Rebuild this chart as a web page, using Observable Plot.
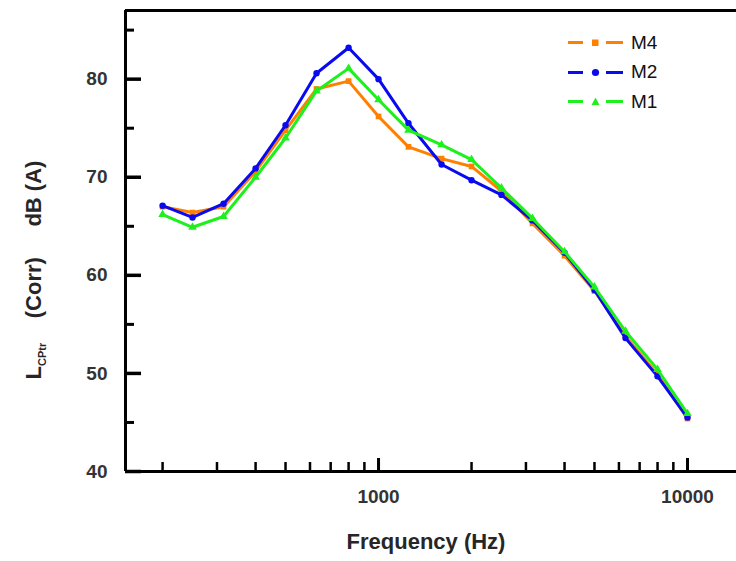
<!DOCTYPE html>
<html>
<head>
<meta charset="utf-8">
<script src="https://cdn.jsdelivr.net/npm/d3@7"></script>
<script src="https://cdn.jsdelivr.net/npm/@observablehq/plot@0.6"></script>
<style>
  html, body { margin: 0; padding: 0; background: #fff; }
  #wrap { position: relative; width: 736px; height: 561px; overflow: hidden; font-family: "Liberation Sans", Arial, sans-serif; }
  #ylab { position: absolute; left: 34px; top: 270px; transform: translate(-50%, -50%) rotate(-90deg); white-space: nowrap; font-weight: bold; font-size: 22px; color: #262626; }
  #ylab .sub { font-size: 11px; position: relative; top: 5px; }
  #xlab { position: absolute; left: 426px; top: 529px; transform: translateX(-50%); white-space: nowrap; font-weight: bold; font-size: 22px; color: #262626; }
  #legend { position: absolute; left: 567px; top: 28px; font-size: 19px; color: #111; }
  #legend .row { display: flex; align-items: center; height: 29.5px; }
  #legend svg { margin-right: 7px; }
</style>
</head>
<body>
<div id="wrap">
  <div id="chart"></div>
  <div id="ylab">L<span class="sub">CPtr</span>&nbsp;&nbsp;&nbsp;&nbsp;(Corr)&nbsp;&nbsp;&nbsp;&nbsp;&nbsp;dB (A)</div>
  <div id="xlab">Frequency (Hz)</div>
  <div id="legend"></div>
</div>
<script>
// Data
const freqs = [200, 250, 315, 400, 500, 630, 800, 1000, 1250, 1600, 2000, 2500, 3150, 4000, 5000, 6300, 8000, 10000];
const M4 = [67.0, 66.4, 67.0, 70.6, 74.8, 79.0, 79.8, 76.2, 73.1, 71.9, 71.1, 68.6, 65.3, 62.0, 58.4, 53.8, 49.9, 45.4];
const M2 = [67.1, 65.9, 67.3, 70.9, 75.3, 80.6, 83.2, 80.0, 75.5, 71.3, 69.7, 68.2, 65.6, 62.3, 58.5, 53.6, 49.7, 45.5];
const M1 = [66.2, 64.9, 66.0, 70.0, 74.0, 78.8, 81.1, 77.9, 74.8, 73.3, 71.8, 68.9, 65.8, 62.4, 58.8, 54.3, 50.4, 45.9];
const seriesNames = ["M4", "M2", "M1"];
const seriesColors = ["#ff8000", "#0a0af0", "#1ef01e"];
const seriesSymbols = ["square", "circle", "triangle"];
const xMajorTicks = [1000, 10000];
const xMinorTicks = [200, 300, 400, 500, 600, 700, 800, 900, 2000, 3000, 4000, 5000, 6000, 7000, 8000, 9000];
const yMajorTicks = [40, 50, 60, 70, 80];
const yMinorTicks = [45, 55, 65, 75, 85];
const xDomain = [151.7, 14410];
const yDomain = [40, 87];

const W = 736, H = 561, mL = 125, mR = 0, mT = 10, mB = 90;

// pixel-length helpers for inward tick marks (derived from the scales)
const xScale = d3.scaleLog().domain(xDomain).range([mL, W - mR]);
const yScale = d3.scaleLinear().domain(yDomain).range([H - mB, mT]);
const yAtPx = (px) => yScale.invert(H - mB - px);      // value px pixels above the x axis
const xAtPx = (px) => xScale.invert(mL + px);          // value px pixels right of the y axis

const values = {M4, M2, M1};
const data = seriesNames.flatMap((name) => freqs.map((f, i) => ({series: name, freq: f, value: values[name][i]})));

const lineMarks = seriesNames.flatMap((name, k) => {
  const d = data.filter((r) => r.series === name);
  return [
    Plot.line(d, {x: "freq", y: "value", stroke: seriesColors[k], strokeWidth: 3}),
    Plot.dot(d, {x: "freq", y: "value", fill: seriesColors[k], symbol: seriesSymbols[k], r: 3.2})
  ];
});

const chart = Plot.plot({
  width: W,
  height: H,
  marginLeft: mL,
  marginRight: mR,
  marginTop: mT,
  marginBottom: mB,
  x: {type: "log", domain: xDomain},
  y: {domain: yDomain},
  style: {fontFamily: "'Liberation Sans', Arial, sans-serif", fontWeight: "bold", fontSize: "19px", color: "#333", background: "white"},
  marks: [
    // spines
    Plot.ruleY([yDomain[0]], {stroke: "#000", strokeWidth: 3}),
    Plot.ruleY([yDomain[1]], {stroke: "#000", strokeWidth: 3}),
    Plot.ruleX([xDomain[0]], {stroke: "#000", strokeWidth: 3}),
    // inward ticks
    Plot.ruleX(xMinorTicks, {x: (d) => d, y1: yDomain[0], y2: yAtPx(9), stroke: "#000", strokeWidth: 2.5}),
    Plot.ruleX(xMajorTicks, {x: (d) => d, y1: yDomain[0], y2: yAtPx(13), stroke: "#000", strokeWidth: 3}),
    Plot.ruleY(yMinorTicks, {y: (d) => d, x1: xDomain[0], x2: xAtPx(9), stroke: "#000", strokeWidth: 3}),
    Plot.ruleY(yMajorTicks, {y: (d) => d, x1: xDomain[0], x2: xAtPx(16), stroke: "#000", strokeWidth: 3.5}),
    // labels
    Plot.axisX({ticks: xMajorTicks, tickSize: 0, tickPadding: 18, tickFormat: (d) => String(d), label: null}),
    Plot.axisY({ticks: yMajorTicks, tickSize: 0, tickPadding: 18, tickFormat: (d) => String(d), label: null}),
    ...lineMarks
  ]
});
document.getElementById("chart").appendChild(chart);

// Legend
const legend = document.getElementById("legend");
const symbolSvg = {
  square: (c) => `<rect x="25" y="4.5" width="6.5" height="6.5" fill="${c}"/>`,
  circle: (c) => `<circle cx="28.5" cy="7.5" r="3.6" fill="${c}"/>`,
  triangle: (c) => `<path d="M28.5,3.5 L32.5,11 L24.5,11 Z" fill="${c}"/>`
};
seriesNames.forEach((name, k) => {
  const c = seriesColors[k];
  const row = document.createElement("div");
  row.className = "row";
  row.innerHTML = `<svg width="57" height="15"><line x1="1" y1="7.5" x2="16" y2="7.5" stroke="${c}" stroke-width="3"/>${symbolSvg[seriesSymbols[k]](c)}<line x1="39" y1="7.5" x2="56" y2="7.5" stroke="${c}" stroke-width="3"/></svg><span>${name}</span>`;
  legend.appendChild(row);
});
</script>
</body>
</html>
